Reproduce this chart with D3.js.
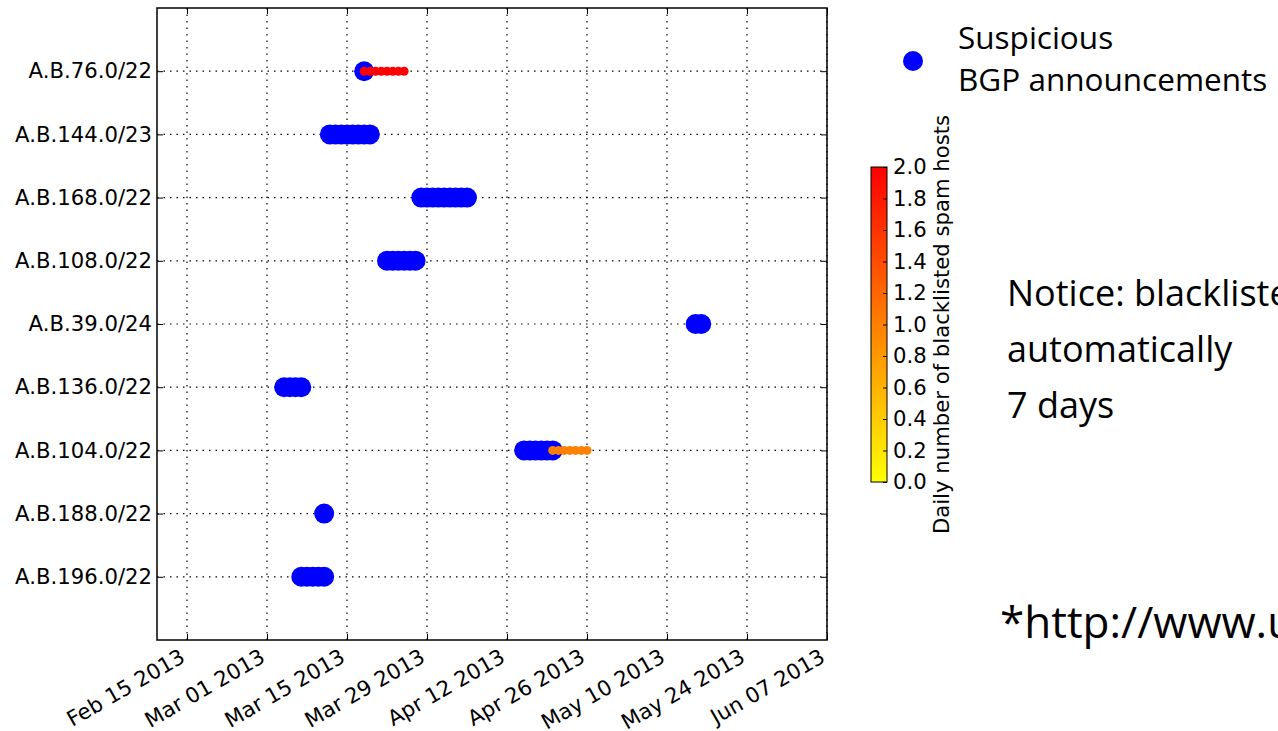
<!DOCTYPE html>
<html>
<head>
<meta charset="utf-8">
<script src="https://cdn.jsdelivr.net/npm/d3@7"></script>
<style>
  body { margin: 0; background: #fff; }
  svg { display: block; }
</style>
</head>
<body>
<svg id="chart" width="1278" height="731"></svg>
<script>
// prefixes, bottom row first
var prefixes = ['A.B.196.0/22', 'A.B.188.0/22', 'A.B.104.0/22', 'A.B.136.0/22', 'A.B.39.0/24',
                'A.B.108.0/22', 'A.B.168.0/22', 'A.B.144.0/23', 'A.B.76.0/22'];

// suspicious announcements: [prefix, first day, last day]
var bgpSpans = [
    ['A.B.196.0/22', '2013-03-07', '2013-03-11'],
    ['A.B.188.0/22', '2013-03-11', '2013-03-11'],
    ['A.B.104.0/22', '2013-04-15', '2013-04-20'],
    ['A.B.136.0/22', '2013-03-04', '2013-03-07'],
    ['A.B.39.0/24',  '2013-05-15', '2013-05-16'],
    ['A.B.108.0/22', '2013-03-22', '2013-03-27'],
    ['A.B.168.0/22', '2013-03-28', '2013-04-05'],
    ['A.B.144.0/23', '2013-03-12', '2013-03-19'],
    ['A.B.76.0/22',  '2013-03-18', '2013-03-18']
];

// blacklisted spam hosts per day: [prefix, first day, last day, hosts]
var spamSpans = [
    ['A.B.76.0/22',  '2013-03-18', '2013-03-25', 2.0],
    ['A.B.104.0/22', '2013-04-20', '2013-04-26', 1.0]
];

var xTicks = ['2013-02-15', '2013-03-01', '2013-03-15', '2013-03-29', '2013-04-12',
              '2013-04-26', '2013-05-10', '2013-05-24', '2013-06-07'];
var cbTicks = [0.0, 0.2, 0.4, 0.6, 0.8, 1.0, 1.2, 1.4, 1.6, 1.8, 2.0];

//---------------------------------------------------------------
var parseDay = d3.utcParse('%Y-%m-%d');
var fmtDay = d3.utcFormat('%b %d %Y');
var gFont = 'DejaVu Sans', gFontSize = 21.2;

var gPlot = { left: 157, right: 827, top: 8, bottom: 640 };

var svg = d3.select('#chart');

var x = d3.scaleUtc()
    .domain([new Date(Date.UTC(2013, 1, 9, 18)), parseDay('2013-06-07')])
    .range([gPlot.left, gPlot.right]);

var y = d3.scaleLinear()
    .domain([-1, prefixes.length])
    .range([gPlot.bottom, gPlot.top]);

function rowY(p){ return y(prefixes.indexOf(p)); }

// autumn_r : yellow at 0, red at 2
var color = d3.scaleLinear().domain([0, 2]).range(['#ffff00', '#ff0000']);

function expand(spans){
    var out = [];
    spans.forEach(function(s){
        var days = d3.utcDay.range(parseDay(s[1]), d3.utcDay.offset(parseDay(s[2]), 1));
        days.forEach(function(d){ out.push({ prefix: s[0], day: d, value: s[3] }); });
    });
    return out;
}

//grid
var grid = svg.append('g').attr('stroke', '#000').attr('stroke-width', 1.2)
    .attr('stroke-dasharray', '1.5,5');
grid.selectAll('.gx').data(xTicks).enter().append('line')
    .attr('x1', function(d){ return x(parseDay(d)); })
    .attr('x2', function(d){ return x(parseDay(d)); })
    .attr('y1', gPlot.top).attr('y2', gPlot.bottom);
grid.selectAll('.gy').data(prefixes).enter().append('line')
    .attr('x1', gPlot.left).attr('x2', gPlot.right)
    .attr('y1', function(d){ return rowY(d); })
    .attr('y2', function(d){ return rowY(d); });

//markers
svg.append('g').selectAll('circle').data(expand(bgpSpans)).enter().append('circle')
    .attr('cx', function(d){ return x(d.day); })
    .attr('cy', function(d){ return rowY(d.prefix); })
    .attr('r', 10)
    .attr('fill', '#0000ff');

svg.append('g').selectAll('circle').data(expand(spamSpans)).enter().append('circle')
    .attr('cx', function(d){ return x(d.day); })
    .attr('cy', function(d){ return rowY(d.prefix); })
    .attr('r', 4.5)
    .attr('fill', function(d){ return color(d.value); });

//axes (inward ticks on all four sides, like matplotlib)
var xTickDates = xTicks.map(parseDay);
var xAxis = svg.append('g').attr('transform', 'translate(0,' + gPlot.bottom + ')')
    .call(d3.axisBottom(x).tickValues(xTickDates).tickFormat(fmtDay).tickSizeInner(-6).tickSizeOuter(0));
xAxis.select('.domain').remove();
xAxis.selectAll('text')
    .attr('font-family', gFont).attr('font-size', gFontSize).attr('fill', '#000')
    .attr('text-anchor', 'end')
    .attr('y', 0).attr('dy', 0)
    .attr('transform', 'translate(-1,21) rotate(-30)');

var xTop = svg.append('g').attr('transform', 'translate(0,' + gPlot.top + ')')
    .call(d3.axisTop(x).tickValues(xTickDates).tickFormat('').tickSizeInner(-6).tickSizeOuter(0));
xTop.select('.domain').remove();

var yAxis = svg.append('g').attr('transform', 'translate(' + gPlot.left + ',0)')
    .call(d3.axisLeft(y).tickValues(d3.range(prefixes.length))
        .tickFormat(function(i){ return prefixes[i]; }).tickSizeInner(-6).tickSizeOuter(0).tickPadding(5));
yAxis.select('.domain').remove();
yAxis.selectAll('text')
    .attr('font-family', gFont).attr('font-size', gFontSize).attr('fill', '#000');

var yRight = svg.append('g').attr('transform', 'translate(' + gPlot.right + ',0)')
    .call(d3.axisRight(y).tickValues(d3.range(prefixes.length)).tickFormat('').tickSizeInner(-6).tickSizeOuter(0));
yRight.select('.domain').remove();

svg.append('rect')
    .attr('x', gPlot.left).attr('y', gPlot.top)
    .attr('width', gPlot.right - gPlot.left).attr('height', gPlot.bottom - gPlot.top)
    .attr('fill', 'none').attr('stroke', '#000').attr('stroke-width', 1.5);

//colorbar
var cb = { x: 871, w: 16, top: 167, bottom: 482 };
var cbScale = d3.scaleLinear().domain([0, 2]).range([cb.bottom, cb.top]);
var grad = svg.append('defs').append('linearGradient').attr('id', 'cbgrad')
    .attr('x1', 0).attr('y1', 1).attr('x2', 0).attr('y2', 0);
grad.append('stop').attr('offset', 0).attr('stop-color', color(0));
grad.append('stop').attr('offset', 1).attr('stop-color', color(2));
svg.append('rect').attr('x', cb.x).attr('y', cb.top).attr('width', cb.w)
    .attr('height', cb.bottom - cb.top).attr('fill', 'url(#cbgrad)')
    .attr('stroke', '#000').attr('stroke-width', 1);
var cbAxis = svg.append('g').attr('transform', 'translate(' + (cb.x + cb.w) + ',0)')
    .call(d3.axisRight(cbScale).tickValues(cbTicks).tickFormat(d3.format('.1f')).tickSizeInner(-4).tickSizeOuter(0).tickPadding(6));
cbAxis.select('.domain').remove();
cbAxis.selectAll('text').attr('font-family', gFont).attr('font-size', gFontSize).attr('fill', '#000');
svg.append('text')
    .attr('transform', 'translate(949,' + ((cb.top + cb.bottom) / 2) + ') rotate(-90)')
    .attr('text-anchor', 'middle')
    .attr('font-family', gFont).attr('font-size', gFontSize)
    .text('Daily number of blacklisted spam hosts');

//legend
svg.append('circle').attr('cx', 913).attr('cy', 61).attr('r', 10).attr('fill', '#0000ff');
var lg = svg.append('text').attr('font-family', 'Open Sans').attr('font-size', 31.5);
lg.append('tspan').attr('x', 958).attr('y', 49).text('Suspicious');
lg.append('tspan').attr('x', 958).attr('y', 91).text('BGP announcements');

//slide notes
var note = svg.append('text').attr('font-family', 'Open Sans').attr('font-size', 36);
note.append('tspan').attr('x', 1007).attr('y', 306).text('Notice: blacklisted');
note.append('tspan').attr('x', 1007).attr('y', 362).text('automatically');
note.append('tspan').attr('x', 1007).attr('y', 418).text('7 days');
svg.append('text').attr('x', 1000).attr('y', 638)
    .attr('font-family', 'Open Sans').attr('font-size', 44)
    .text('*http://www.u');
</script>
</body>
</html>
